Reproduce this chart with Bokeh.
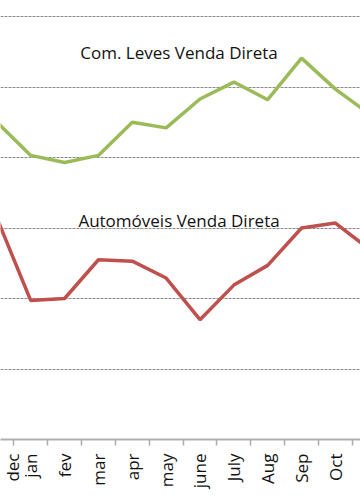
from bokeh.plotting import figure
from bokeh.models import Range1d, FixedTicker, Label
from bokeh.embed import file_html
from bokeh.resources import INLINE
import math

months = ["dec", "jan", "fev", "mar", "apr", "may", "june", "July", "Aug", "Sep", "Oct", "Nov"]
com_leves = [45.0, 40.3, 39.3, 40.3, 45.0, 44.2, 48.3, 50.7, 48.2, 54.1, 49.7, 46.2]
automoveis = [31.4, 19.7, 20.0, 25.5, 25.3, 22.9, 17.0, 21.9, 24.7, 30.0, 30.7, 27.0]
grid_values = [10, 20, 30, 40, 50, 60]
title_leves = "Com. Leves Venda Direta"
title_auto = "Automóveis Venda Direta"

xs = list(range(len(months)))

p = figure(frame_width=360, frame_height=439, output_backend="svg", toolbar_location=None,
           x_range=Range1d(0.106, 10.742), y_range=Range1d(0, 62.27),
           min_border=0, min_border_left=0, min_border_right=0, min_border_top=0, min_border_bottom=0)
p.outline_line_color = None
p.background_fill_color = "white"
p.border_fill_color = "white"

p.line(xs, com_leves, line_color="#9BBB59", line_width=3.5)
p.line(xs, automoveis, line_color="#C0504D", line_width=3.5)

p.yaxis.visible = False
p.xgrid.visible = False
p.ygrid.ticker = FixedTicker(ticks=grid_values)
p.ygrid.grid_line_color = "#8a8a8a"
p.ygrid.grid_line_dash = "3 1"
p.ygrid.grid_line_width = 1

# the first category's centre lies just left of the visible range; its label is
# nudged to the left edge so that it stays readable
label_pos = [0.33] + xs[1:]
xa = p.xaxis[0]
xa.ticker = FixedTicker(ticks=label_pos, minor_ticks=[i + 0.5 for i in range(len(months) - 1)])
xa.major_label_overrides = {pos: m for pos, m in zip(label_pos, months)}
xa.major_label_orientation = math.pi / 2
xa.major_tick_line_color = None
xa.major_tick_out = 6
xa.major_tick_in = 0
xa.minor_tick_line_color = "#aaaaaa"
xa.minor_tick_line_width = 1.5
xa.minor_tick_out = 6
xa.minor_tick_in = 0
xa.axis_line_color = "#b0b0b0"
xa.axis_line_width = 2
xa.major_label_standoff = 8
xa.major_label_text_font = "Open Sans"
xa.major_label_text_font_size = "17px"
xa.major_label_text_color = "#111111"

for txt, xv, yv in [(title_leves, 5.38, 54.85), (title_auto, 5.38, 31.06)]:
    p.add_layout(Label(x=xv, y=yv, text=txt, text_align="center", text_baseline="alphabetic",
                       text_font="Open Sans", text_font_size="17px", text_color="#111111"))

open("out.html", "w").write(file_html(p, INLINE))
